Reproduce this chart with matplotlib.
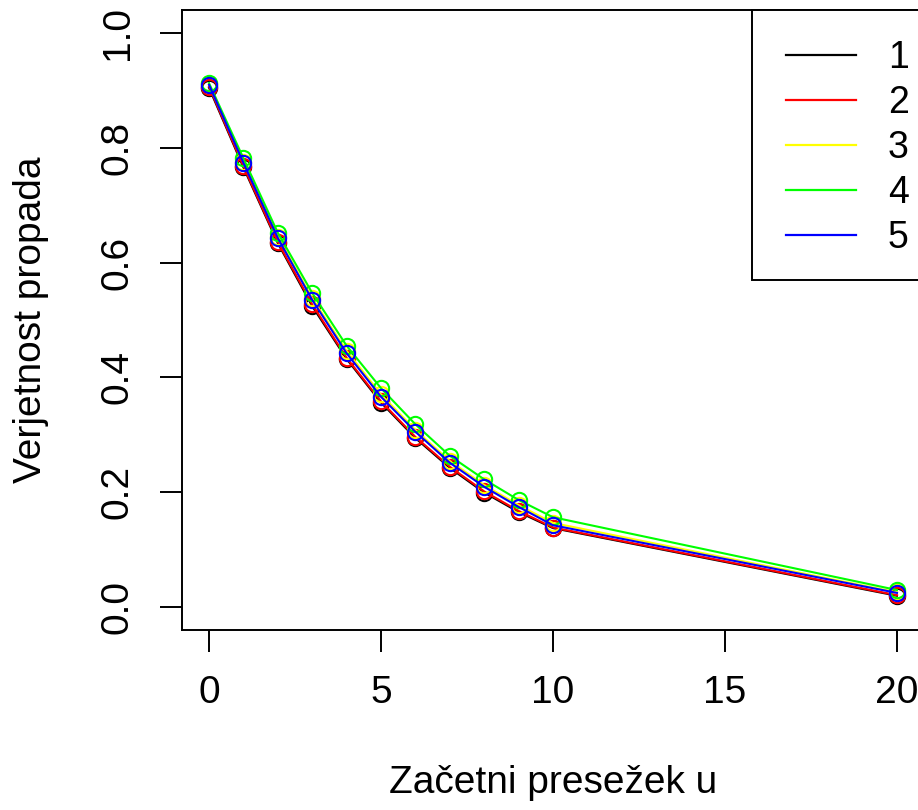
import matplotlib
matplotlib.use("Agg")
import matplotlib.pyplot as plt
from matplotlib.patches import Rectangle

plt.rcParams['font.family'] = ['Liberation Sans', 'DejaVu Sans']

# data
u_values = [0, 1, 2, 3, 4, 5, 6, 7, 8, 9, 10, 20]
series_labels = ["1", "2", "3", "4", "5"]
series_colors = ["black", "red", "yellow", "#00FF00", "blue"]
p1 = [0.905, 0.766, 0.634, 0.524, 0.432, 0.356, 0.294, 0.242, 0.199, 0.165, 0.137, 0.019]
p2 = [0.907, 0.768, 0.636, 0.527, 0.434, 0.358, 0.296, 0.244, 0.201, 0.167, 0.138, 0.020]
p3 = [0.911, 0.776, 0.645, 0.538, 0.446, 0.370, 0.308, 0.254, 0.212, 0.177, 0.146, 0.025]
p4 = [0.913, 0.782, 0.652, 0.547, 0.455, 0.381, 0.318, 0.263, 0.222, 0.186, 0.156, 0.029]
p5 = [0.910, 0.774, 0.643, 0.535, 0.442, 0.366, 0.305, 0.251, 0.209, 0.174, 0.142, 0.024]
series = [p1, p2, p3, p4, p5]
x_ticks = [0, 5, 10, 15, 20]
y_ticks = [0.0, 0.2, 0.4, 0.6, 0.8, 1.0]

W, H = 918, 810
fig = plt.figure(figsize=(W / 100, H / 100), dpi=100)
ax = fig.add_axes([181.5 / W, (H - 629.6) / H, 743.0 / W, 619.3 / H])

FS = 28
for ys, lab, col in zip(series, series_labels, series_colors):
    ax.plot(u_values, ys, color=col, lw=1.5, marker='o', markersize=11,
            markerfacecolor='none', markeredgecolor=col, markeredgewidth=1.5,
            label=lab)

ax.set_xlim(-0.8, 20.8)
ax.set_ylim(-0.04, 1.04)
ax.set_xticks(x_ticks)
ax.set_yticks(y_ticks)
ax.set_xticklabels([str(v) for v in x_ticks])
ax.set_yticklabels([f"{v:.1f}" for v in y_ticks], rotation=90, va='center')
ax.tick_params(axis='both', length=16, width=1.4, pad=17, labelsize=FS, colors='black')
for s in ax.spines.values():
    s.set_linewidth(1.4)

ax.set_xlabel("Začetni presežek u", fontsize=FS)
ax.set_ylabel("Verjetnost propada", fontsize=FS)
ax.xaxis.set_label_coords(0.5, -0.218)
ax.yaxis.set_label_coords(-0.178, 0.5)

# legend box
ax.add_patch(Rectangle((0.7678, 0.5645), 0.2422, 0.4355,
                       transform=ax.transAxes, facecolor='white', edgecolor='black',
                       lw=1.4, zorder=5, clip_on=False))
leg = ax.legend(loc='upper left', bbox_to_anchor=(0.8136, 0.952), frameon=False,
                borderpad=0, borderaxespad=0, fontsize=FS - 1, handlelength=1.87,
                handletextpad=0.85, labelspacing=0.24)
leg.set_zorder(6)
for h in leg.legend_handles:
    h.set_marker('')
    h.set_linewidth(1.6)

fig.savefig("out.png", dpi=100)
